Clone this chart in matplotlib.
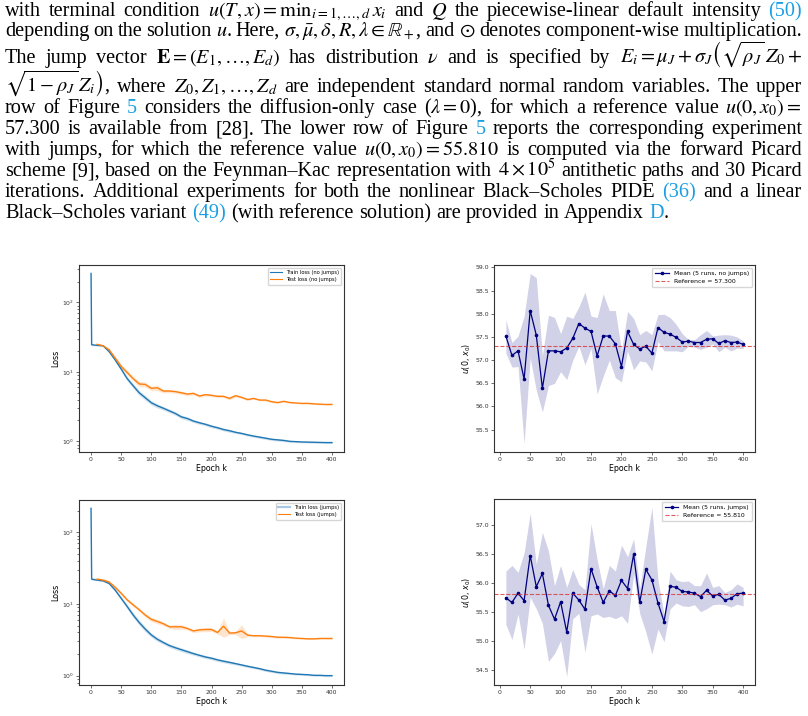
import re

import matplotlib
matplotlib.use("Agg")
import matplotlib.pyplot as plt
from matplotlib.lines import Line2D
import numpy as np

# #############################################################################
# Datos

epochs_train = [0, 1] + list(range(10, 401, 10))
epochs_test = list(range(10, 401, 10))

train_nojump = [261, 24.6,
                24.1, 23.8, 19.6, 14.9, 11.0, 8.0, 6.3, 5.0, 4.25, 3.6,
                3.25, 3.0, 2.75, 2.52, 2.25, 2.13, 1.96, 1.85, 1.76, 1.65,
                1.57, 1.48, 1.42, 1.35, 1.30, 1.24, 1.19, 1.15, 1.11, 1.07,
                1.05, 1.03, 1.0, 0.99, 0.98, 0.975, 0.97, 0.965, 0.96, 0.96]
train_nojump_sp = [0.0, 0.03,
                   0.02, 0.02, 0.03, 0.05, 0.06, 0.07, 0.08, 0.08, 0.08, 0.07,
                   0.07, 0.06, 0.06, 0.06, 0.06, 0.06, 0.05, 0.05, 0.05, 0.05,
                   0.05, 0.05, 0.05, 0.04, 0.04, 0.04, 0.04, 0.04, 0.04, 0.04,
                   0.04, 0.04, 0.03, 0.03, 0.03, 0.03, 0.03, 0.03, 0.03, 0.03]
test_nojump = [24.9, 23.8, 20.8, 15.8, 12.0, 9.8, 8.0, 6.7, 6.6, 5.8,
               5.9, 5.3, 5.3, 5.2, 5.0, 4.8, 4.9, 4.5, 4.7, 4.6,
               4.45, 4.45, 4.15, 4.55, 4.3, 4.0, 4.15, 3.93, 3.93, 3.72,
               3.62, 3.77, 3.62, 3.57, 3.52, 3.52, 3.47, 3.42, 3.40, 3.40]
test_nojump_sp = [0.03, 0.03, 0.05, 0.07, 0.08, 0.08, 0.08, 0.09, 0.08, 0.07,
                  0.09, 0.06, 0.05, 0.05, 0.05, 0.05, 0.05, 0.05, 0.04, 0.04,
                  0.04, 0.04, 0.05, 0.05, 0.04, 0.03, 0.03, 0.03, 0.03, 0.03,
                  0.03, 0.03, 0.02, 0.02, 0.02, 0.02, 0.02, 0.02, 0.02, 0.02]

train_jump = [215, 22.2,
              21.5, 21.0, 19.3, 15.6, 12.0, 9.2, 7.0, 5.5, 4.45, 3.7,
              3.22, 2.9, 2.63, 2.45, 2.3, 2.16, 2.03, 1.92, 1.82, 1.75,
              1.66, 1.59, 1.53, 1.47, 1.41, 1.35, 1.30, 1.25, 1.19, 1.15,
              1.11, 1.09, 1.07, 1.05, 1.04, 1.03, 1.01, 1.01, 1.0, 1.0]
train_jump_sp = train_nojump_sp
test_jump = [22.2, 21.5, 20.2, 17.1, 14.1, 11.4, 9.7, 8.3, 7.0, 6.1,
             5.7, 5.3, 4.8, 4.8, 4.8, 4.55, 4.2, 4.35, 4.4, 4.4,
             4.0, 4.9, 3.92, 3.96, 4.2, 3.67, 3.6, 3.6, 3.56, 3.51,
             3.43, 3.43, 3.4, 3.33, 3.3, 3.26, 3.26, 3.3, 3.3, 3.3]
test_jump_sp = [0.04, 0.04, 0.05, 0.05, 0.05, 0.05, 0.05, 0.05, 0.06, 0.07,
                0.07, 0.06, 0.05, 0.08, 0.07, 0.05, 0.05, 0.06, 0.07, 0.06,
                0.05, 0.30, 0.05, 0.05, 0.22, 0.04, 0.03, 0.03, 0.03, 0.03,
                0.03, 0.03, 0.03, 0.02, 0.02, 0.02, 0.02, 0.02, 0.02, 0.02]

u_nojump = [57.52, 57.10, 57.20, 56.59, 58.07, 57.54, 56.39, 57.20, 57.20, 57.18,
            57.26, 57.47, 57.79, 57.69, 57.62, 57.09, 57.52, 57.52, 57.35, 56.86,
            57.62, 57.34, 57.24, 57.30, 57.15, 57.70, 57.60, 57.56, 57.49, 57.39,
            57.41, 57.38, 57.38, 57.45, 57.46, 57.36, 57.42, 57.38, 57.39, 57.34]
u_nojump_hi = [57.87, 57.38, 57.52, 57.95, 58.87, 58.78, 57.10, 57.97, 57.92, 57.57,
               57.95, 57.90, 58.15, 58.47, 57.95, 57.92, 58.43, 58.07, 58.07, 57.20,
               58.05, 57.90, 57.55, 57.64, 57.55, 57.98, 57.99, 57.92, 57.77, 57.57,
               57.45, 57.44, 57.55, 57.64, 57.52, 57.54, 57.55, 57.54, 57.50, 57.42]
u_nojump_lo = [57.15, 56.85, 56.86, 55.20, 57.05, 56.35, 55.88, 56.45, 56.50, 56.75,
               56.58, 57.00, 57.30, 56.90, 57.25, 56.27, 56.65, 57.00, 56.62, 56.53,
               57.20, 56.79, 56.98, 56.96, 56.77, 57.40, 57.20, 57.20, 57.20, 57.18,
               57.30, 57.28, 57.23, 57.28, 57.35, 57.18, 57.28, 57.20, 57.26, 57.25]
ref_nojump = 57.300

u_jump = [55.74, 55.66, 55.82, 55.69, 56.47, 55.93, 56.16, 55.61, 55.37, 55.67,
          55.15, 55.82, 55.70, 55.54, 56.24, 55.93, 55.66, 55.86, 55.78, 56.04,
          55.90, 56.49, 55.66, 56.23, 56.05, 55.65, 55.33, 55.94, 55.92, 55.85,
          55.84, 55.82, 55.76, 55.87, 55.77, 55.80, 55.70, 55.73, 55.81, 55.82]
u_jump_hi = [56.20, 56.30, 56.18, 56.52, 57.20, 56.32, 56.87, 56.55, 55.95, 56.30,
             55.92, 56.23, 55.97, 55.88, 57.02, 56.40, 55.90, 56.30, 56.20, 56.65,
             56.45, 56.76, 55.90, 56.62, 57.30, 56.05, 55.45, 56.20, 56.05, 56.02,
             56.03, 55.95, 55.95, 56.17, 55.92, 55.95, 55.83, 55.88, 55.98, 55.92]
u_jump_lo = [55.28, 55.02, 55.46, 54.85, 55.75, 55.55, 55.30, 54.64, 54.78, 55.00,
             54.38, 55.38, 55.47, 54.80, 55.43, 55.46, 55.40, 55.42, 55.38, 55.43,
             55.30, 56.15, 55.47, 55.15, 54.77, 55.20, 54.98, 55.55, 55.65, 55.60,
             55.59, 55.62, 55.50, 55.55, 55.62, 55.63, 55.62, 55.58, 55.63, 55.60]
ref_jump = 55.810

# Texto del parrafo; {{...}} marca los enlaces en color
parrafo = [
    r"with terminal condition $u(T,x)=\mathrm{min}_{i=1,\ldots,d}\,x_i$ and $Q$ the piecewise-linear default intensity {{(50)}}",
    r"depending on the solution $u$. Here, $\sigma,\bar{\mu},\delta,R,\lambda\in\mathbb{R}_+$, and $\odot$ denotes component-wise multiplication.",
    r"The jump vector $\mathbf{E}=(E_1,\ldots,E_d)$ has distribution $\nu$ and is specified by $E_i=\mu_J+\sigma_J\left(\sqrt{\rho_J}\,Z_0+\right.$",
    r"$\left.\sqrt{1-\rho_J}\,Z_i\right)$, where $Z_0,Z_1,\ldots,Z_d$ are independent standard normal random variables. The upper",
    r"row of Figure {{5}} considers the diffusion-only case ($\lambda=0$), for which a reference value $u(0,x_0)=$",
    r"57.300 is available from [28].  The lower row of Figure {{5}} reports the corresponding experiment",
    r"with jumps, for which the reference value $u(0,x_0)=55.810$ is computed via the forward Picard",
    r"scheme [9], based on the Feynman–Kac representation with $4\times10^5$ antithetic paths and 30 Picard",
    r"iterations.  Additional experiments for both the nonlinear Black–Scholes PIDE {{(36)}} and a linear",
    r"Black–Scholes variant {{(49)}} (with reference solution) are provided in Appendix {{D}}.",
]
baselines = [16, 36, 63, 92, 113, 134, 155, 176, 197, 218]

# #############################################################################
# Figura

W, H = 808, 716
LINK = "#1a9fe3"

fig = plt.figure(figsize=(W / 100, H / 100), dpi=100)
renderer = fig.canvas.get_renderer()


def separar(linea):
    """Separa una linea en palabras, sin cortar dentro de $...$"""
    toks, cur, math = [], "", False
    for ch in linea:
        if ch == "$":
            math = not math
        if ch == " " and not math:
            if cur:
                toks.append(cur)
            cur = ""
        else:
            cur += ch
    if cur:
        toks.append(cur)
    return toks


def nuevo_texto(s, color, fs):
    return fig.text(0, 0, s, fontsize=fs, color=color, family="Liberation Serif",
                    math_fontfamily="stix", va="baseline", ha="left")


def ancho(t):
    return t.get_window_extent(renderer).width


def armar_lineas(fs):
    lineas = []
    for linea in parrafo:
        palabras = []
        for tok in separar(linea):
            partes = re.split(r"\{\{(.*?)\}\}", tok)
            objs = []
            for k, p in enumerate(partes):
                if p:
                    objs.append(nuevo_texto(p, LINK if k % 2 else "black", fs))
            palabras.append((objs, sum(ancho(o) for o in objs)))
        lineas.append(palabras)
    esp = ancho(nuevo_texto("x x", "w", fs)) - ancho(nuevo_texto("xx", "w", fs))
    return lineas, esp


def limpiar():
    for t in list(fig.texts):
        t.remove()


x_izq, x_der = 5, 802

# Primera pasada: se ajusta el tamano de letra a la linea mas llena
FS0 = 13.0
lineas, esp = armar_lineas(FS0)
natural = max(sum(w for _, w in p) + (len(p) - 1) * esp for p in lineas[:-1])
limpiar()
FS = FS0 * (x_der - x_izq) / natural * 1.01

lineas, esp = armar_lineas(FS)
for t in list(fig.texts):
    if t.get_color() == "w":
        t.remove()

for n, (palabras, yb) in enumerate(zip(lineas, baselines)):
    total = sum(w for _, w in palabras)
    if n < len(lineas) - 1:
        gap = (x_der - x_izq - total) / (len(palabras) - 1)
    else:
        gap = esp
    x = x_izq
    for objs, w in palabras:
        xx = x
        for o in objs:
            o.set_position((xx / W, 1 - yb / H))
            xx += ancho(o)
        x += w + gap


def ejes(x0, y0, x1, y1):
    ax = fig.add_axes([x0 / W, 1 - y1 / H, (x1 - x0) / W, (y1 - y0) / H])
    for s in ax.spines.values():
        s.set_linewidth(0.8)
        s.set_color("#333333")
    ax.tick_params(labelsize=4.4, length=2, width=0.5, pad=1.5, colors="#333333")
    ax.tick_params(which="minor", length=1.2, width=0.4)
    ax.set_xticks(range(0, 401, 50))
    ax.set_xlabel("Epoch k", fontsize=5.7, labelpad=1.5)
    return ax


def panel_loss(ax, train, train_sp, test, test_sp, tag, handle_claro):
    tr, trs = np.array(train), np.array(train_sp)
    ts, tss = np.array(test), np.array(test_sp)
    ax.fill_between(epochs_train, tr * (1 - trs), tr * (1 + trs),
                    color="tab:blue", alpha=0.2, lw=0)
    ax.plot(epochs_train, tr, color="tab:blue", lw=1.0)
    ax.fill_between(epochs_test, ts * (1 - tss), ts * (1 + tss),
                    color="tab:orange", alpha=0.2, lw=0)
    ax.plot(epochs_test, ts, color="tab:orange", lw=1.0)
    ax.set_yscale("log")
    ax.set_ylabel("Loss", fontsize=5.7, labelpad=1.5)
    h_train = Line2D([], [], color="#a6c8e6" if handle_claro else "tab:blue",
                     lw=1.6 if handle_claro else 0.8)
    h_test = Line2D([], [], color="tab:orange", lw=0.8)
    ax.legend([h_train, h_test], [f"Train loss ({tag})", f"Test loss ({tag})"],
              loc="upper right", fontsize=3.7, handlelength=2.2,
              borderpad=0.5, labelspacing=0.4, framealpha=0.8)


def panel_u(ax, media, lo, hi, ref, tag):
    ax.fill_between(epochs_test, lo, hi, color="navy", alpha=0.18, lw=0)
    ax.plot(epochs_test, media, "-o", color="navy", lw=0.9, ms=1.6,
            label=f"Mean (5 runs, {tag})")
    ax.axhline(ref, color="tab:red", ls="--", lw=0.8, alpha=0.75,
               label=f"Reference = {ref:.3f}")
    ax.set_ylabel(r"$u(0,\,x_0)$", fontsize=5.7, labelpad=1.5)
    ax.legend(loc="upper right", fontsize=4.4, handlelength=2.2,
              borderpad=0.5, labelspacing=0.4, framealpha=0.8)


ax1 = ejes(79, 265, 344, 452)
panel_loss(ax1, train_nojump, train_nojump_sp, test_nojump, test_nojump_sp,
           "no jumps", False)
ax2 = ejes(494, 265, 755, 452)
panel_u(ax2, u_nojump, u_nojump_lo, u_nojump_hi, ref_nojump, "no jumps")
ax3 = ejes(79, 500, 344, 685)
panel_loss(ax3, train_jump, train_jump_sp, test_jump, test_jump_sp,
           "jumps", True)
ax4 = ejes(494, 499, 755, 685)
panel_u(ax4, u_jump, u_jump_lo, u_jump_hi, ref_jump, "jumps")

fig.savefig("out.png", dpi=100)
